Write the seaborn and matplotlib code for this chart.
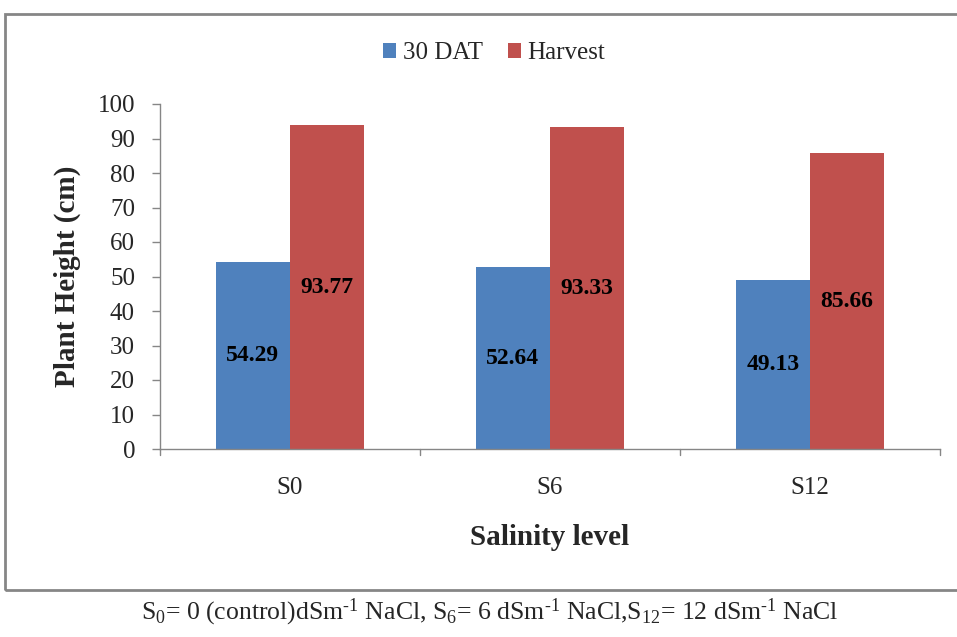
import matplotlib
matplotlib.use("Agg")
import matplotlib.pyplot as plt
import seaborn as sns
import pandas as pd
from matplotlib.patches import Rectangle

categories = ["S0", "S6", "S12"]
dat30 = [54.29, 52.64, 49.13]
harvest = [93.77, 93.33, 85.66]
series_names = ["30 DAT", "Harvest"]
yticks = list(range(0, 101, 10))

sns.set_theme(style="white")
plt.rcParams['font.family'] = ['Liberation Serif', 'DejaVu Serif']
plt.rcParams['mathtext.fontset'] = 'custom'
plt.rcParams['mathtext.rm'] = 'Liberation Serif'
plt.rcParams['mathtext.it'] = 'Liberation Serif'
plt.rcParams['mathtext.bf'] = 'Liberation Serif:bold'

df = pd.DataFrame({
    "Salinity": categories * 2,
    "Height": dat30 + harvest,
    "Series": [series_names[0]] * 3 + [series_names[1]] * 3,
})

fig = plt.figure(figsize=(9.57, 6.37), dpi=100)
ax = fig.add_axes([160/957, 1-449/637, (940-160)/957, (449-104)/637])

palette = {"30 DAT": "#4F81BD", "Harvest": "#C0504D"}
sns.barplot(data=df, x="Salinity", y="Height", hue="Series", palette=palette,
            order=categories, hue_order=series_names, width=0.57, gap=0,
            saturation=1, ax=ax, errorbar=None, edgecolor="none")

ax.set_ylim(0, 100)
ax.set_yticks(yticks)
ax.set_xlim(-0.5, 2.5)
ax.tick_params(axis='y', labelsize=18, length=6, width=1, color="#868686", direction='out', left=True, pad=12)
ax.tick_params(axis='x', labelsize=18, length=0, pad=20)
for x in [-0.5, 0.5, 1.5, 2.5]:
    ax.plot([x, x], [0, -1.8], color="#868686", lw=1, clip_on=False)
for s in ["top", "right"]:
    ax.spines[s].set_visible(False)
for s in ["left", "bottom"]:
    ax.spines[s].set_color("#868686")
    ax.spines[s].set_linewidth(1)

ax.set_ylabel("Plant Height (cm)", fontsize=21, fontweight="bold", labelpad=12)
ax.set_xlabel("Salinity level", fontsize=21, fontweight="bold", labelpad=18)

for cont in ax.containers:
    for bar in cont:
        h = bar.get_height()
        ax.text(bar.get_x() + bar.get_width()/2, h/2, f"{h:.2f}",
                ha="center", va="center", fontsize=17, fontweight="bold", color="black")

leg = ax.legend(loc="center", ncol=2, frameon=False, fontsize=18, handlelength=0.55, handleheight=0.55,
                handletextpad=0.25, columnspacing=1.0, borderpad=0)
leg.set_bbox_to_anchor((494/957, 1-53/637), transform=fig.transFigure)

fig.patches.append(Rectangle((5/957, 1-590/637), 960/957, (590-14)/637, transform=fig.transFigure,
                             fill=False, edgecolor="#868686", linewidth=2, clip_on=False))

fig.text(490/957, 1-612/637,
         r"S$_0$= 0 (control)dSm$^{\text{-}1}$ NaCl, S$_6$= 6 dSm$^{\text{-}1}$ NaCl,S$_{12}$= 12 dSm$^{\text{-}1}$ NaCl",
         ha="center", va="center", fontsize=18.5)

fig.savefig("out.png", dpi=100)
